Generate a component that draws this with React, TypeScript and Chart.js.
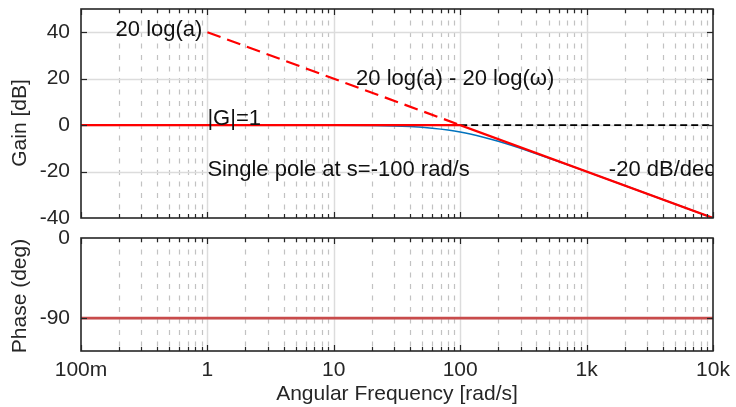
import React, { useEffect, useRef } from 'react';
import { Chart, registerables } from 'chart.js';

Chart.register(...registerables);

const FONT = "'Liberation Sans', Arial, Helvetica, sans-serif";
const TEXT = '#262626';
const FONT_SIZE = 21;
const NOTE_FONT_SIZE = 22;

// x axis (log) decades and labels
const decadeValues = [0.1, 1, 10, 100, 1000, 10000];
const decadeLabels = ['100m', '1', '10', '100', '1k', '10k'];
const minorMultipliers = [2, 3, 4, 5, 6, 7, 8, 9];

// y tick values
const gainTickValues = [-40, -20, 0, 20, 40];
const phaseTickValues = [-90, 0];

// Gain: straight-line asymptote (red solid)
const asymFreq = [0.1, 100, 10000];
const asymGain = [0, 0, -40];

// Gain: exact magnitude (blue)
const exactFreq = [0.1, 1, 10, 20, 30, 40, 50, 60, 70, 80, 90, 100, 110, 120, 135, 150, 175, 200, 250, 300, 400, 500, 700, 1000, 2000, 5000, 10000];
const exactGain = [0, 0, -0.04, -0.17, -0.37, -0.64, -0.97, -1.34, -1.73, -2.15, -2.58, -3.01, -3.44, -3.87, -4.51, -5.12, -6.08, -6.99, -8.6, -10.0, -12.3, -14.15, -16.99, -20.04, -26.03, -33.98, -40.0];

// Gain: 20 log(a) - 20 log(w) extension (red dashed)
const slopeFreq = [1, 100];
const slopeGain = [40, 0];

// Gain: |G| = 1 continuation (black dashed)
const unityFreq = [100, 10000];
const unityGain = [0, 0];

// Phase
const phaseFreq = [0.1, 10000];
const phaseDeg = [-90, -90];

// Text annotations (data coordinates)
const annotationTexts = ['20 log(a)', '20 log(a) - 20 log(ω)', '|G|=1', 'Single pole at s=-100 rad/s', '-20 dB/dec'];
const annotationX = [1, 15, 1, 1, 1500];
const annotationY = [40, 19, 2, -20, -20];
const annotationAlign = ['right', 'left', 'left', 'left', 'left'];

const pts = (xs: number[], ys: number[]) => xs.map((x, i) => ({ x, y: ys[i] }));

function minorValues(): number[] {
  const out: number[] = [];
  for (const d of decadeValues.slice(0, -1)) for (const m of minorMultipliers) out.push(d * m);
  return out;
}

const crisp = (v: number) => Math.round(v) + 0.5;

function drawGrid(chart: any, hValues: number[]) {
  const { ctx, chartArea: a, scales } = chart;
  const xs = scales.x;
  const ys = scales.y;
  ctx.save();
  ctx.lineWidth = 1.2;
  ctx.strokeStyle = '#c2c2c2';
  ctx.setLineDash([5, 6.5]);
  for (const v of minorValues()) {
    const x = crisp(xs.getPixelForValue(v));
    ctx.beginPath();
    ctx.moveTo(x, a.top);
    ctx.lineTo(x, a.bottom);
    ctx.stroke();
  }
  ctx.setLineDash([]);
  ctx.strokeStyle = '#dcdcdc';
  ctx.lineWidth = 1.5;
  for (const v of decadeValues.slice(1, -1)) {
    const x = crisp(xs.getPixelForValue(v));
    ctx.beginPath();
    ctx.moveTo(x, a.top);
    ctx.lineTo(x, a.bottom);
    ctx.stroke();
  }
  for (const v of hValues) {
    const y = crisp(ys.getPixelForValue(v));
    ctx.beginPath();
    ctx.moveTo(a.left, y);
    ctx.lineTo(a.right, y);
    ctx.stroke();
  }
  ctx.restore();
}

function drawFrame(chart: any, yTickValues: number[]) {
  const { ctx, chartArea: a, scales } = chart;
  const xs = scales.x;
  const ys = scales.y;
  ctx.save();
  ctx.strokeStyle = TEXT;
  ctx.lineWidth = 1.2;
  const seg = (x1: number, y1: number, x2: number, y2: number) => {
    ctx.beginPath();
    ctx.moveTo(x1, y1);
    ctx.lineTo(x2, y2);
    ctx.stroke();
  };
  for (const v of minorValues()) {
    const x = crisp(xs.getPixelForValue(v));
    seg(x, a.top, x, a.top + 4);
    seg(x, a.bottom, x, a.bottom - 4);
  }
  for (const v of decadeValues) {
    const x = crisp(xs.getPixelForValue(v));
    seg(x, a.top, x, a.top + 6);
    seg(x, a.bottom, x, a.bottom - 6);
  }
  for (const v of yTickValues) {
    const y = crisp(ys.getPixelForValue(v));
    seg(a.left, y, a.left + 6, y);
    seg(a.right, y, a.right - 6, y);
  }
  ctx.lineWidth = 1.6;
  ctx.strokeRect(Math.round(a.left), Math.round(a.top), Math.round(a.right - a.left), Math.round(a.bottom - a.top));
  ctx.restore();
}

function drawYTitle(chart: any, text: string, x: number, y: number) {
  const { ctx } = chart;
  ctx.save();
  ctx.translate(x, y);
  ctx.rotate(-Math.PI / 2);
  ctx.font = `${FONT_SIZE}px ${FONT}`;
  ctx.fillStyle = TEXT;
  ctx.textAlign = 'center';
  ctx.textBaseline = 'middle';
  ctx.fillText(text, 0, 0);
  ctx.restore();
}

function drawAnnotations(chart: any) {
  const { ctx, chartArea: a, scales } = chart;
  ctx.save();
  ctx.beginPath();
  ctx.rect(a.left, a.top, a.right - a.left, a.bottom - a.top);
  ctx.clip();
  ctx.font = `${NOTE_FONT_SIZE}px ${FONT}`;
  ctx.fillStyle = '#111111';
  ctx.textBaseline = 'middle';
  annotationTexts.forEach((t, i) => {
    const align = annotationAlign[i];
    ctx.textAlign = align as CanvasTextAlign;
    const x = scales.x.getPixelForValue(annotationX[i]) + (align === 'right' ? -5 : 0);
    const y = scales.y.getPixelForValue(annotationY[i]) - 2;
    ctx.fillText(t, x, y);
  });
  ctx.restore();
}

const gainDecor = {
  id: 'gainDecor',
  beforeDatasetsDraw(chart: any) {
    drawGrid(chart, [40, 20, 0, -20]);
  },
  afterDatasetsDraw(chart: any) {
    drawFrame(chart, [40, 20, 0, -20]);
    drawAnnotations(chart);
    drawYTitle(chart, 'Gain [dB]', 20, 123);
  },
};

const phaseDecor = {
  id: 'phaseDecor',
  beforeDatasetsDraw(chart: any) {
    drawGrid(chart, [-90]);
  },
  afterDatasetsDraw(chart: any) {
    drawFrame(chart, [-90]);
    drawYTitle(chart, 'Phase (deg)', 20, 296 - 220);
  },
};

const tickFont = { family: FONT, size: FONT_SIZE };

const fixYWidth = (s: any) => {
  s.width = 81;
  s.paddingTop = 0;
  s.paddingBottom = 0;
};

export default function App() {
  const topRef = useRef<HTMLCanvasElement>(null);
  const botRef = useRef<HTMLCanvasElement>(null);

  useEffect(() => {
    const top = new Chart(topRef.current!, {
      type: 'line',
      data: {
        datasets: [
          { data: pts(asymFreq, asymGain), borderColor: '#ff0000', borderWidth: 2.2, pointRadius: 0, order: 0 },
          { data: pts(slopeFreq, slopeGain), borderColor: '#ff0000', borderWidth: 2.2, borderDash: [14, 7], pointRadius: 0, order: 0 },
          { data: pts(exactFreq, exactGain), borderColor: '#0072BD', borderWidth: 1.5, pointRadius: 0, order: 1 },
          { data: pts(unityFreq, unityGain), borderColor: '#000000', borderWidth: 1.6, borderDash: [7, 4], pointRadius: 0, order: 2 },
        ],
      },
      options: {
        responsive: false,
        devicePixelRatio: 1,
        animation: false,
        layout: { padding: { top: 9, right: 23, bottom: 22, left: 0 } },
        plugins: { legend: { display: false }, tooltip: { enabled: false } },
        scales: {
          x: { type: 'logarithmic', min: 0.1, max: 10000, display: false },
          y: {
            type: 'linear',
            min: -40,
            max: 50,
            afterBuildTicks: (s: any) => {
              s.ticks = gainTickValues.map((v) => ({ value: v }));
            },
            afterFit: fixYWidth,
            grid: { display: false, drawTicks: false },
            border: { display: false },
            ticks: { font: tickFont, color: TEXT, padding: 11, autoSkip: false },
          },
        },
      } as any,
      plugins: [gainDecor],
    });

    const bot = new Chart(botRef.current!, {
      type: 'line',
      data: {
        datasets: [
          { data: pts(phaseFreq, phaseDeg), borderColor: '#c84b4b', borderWidth: 2.6, pointRadius: 0 },
        ],
      },
      options: {
        responsive: false,
        devicePixelRatio: 1,
        animation: false,
        layout: { padding: { top: 18, right: 23, bottom: 0, left: 0 } },
        plugins: { legend: { display: false }, tooltip: { enabled: false } },
        scales: {
          x: {
            type: 'logarithmic',
            min: 0.1,
            max: 10000,
            position: 'bottom',
            afterBuildTicks: (s: any) => {
              s.ticks = decadeValues.map((v) => ({ value: v }));
            },
            afterFit: (s: any) => {
              s.height = 56;
              s.paddingLeft = 0;
              s.paddingRight = 0;
            },
            grid: { display: false, drawTicks: false },
            border: { display: false },
            ticks: {
              autoSkip: false,
              maxRotation: 0,
              minRotation: 0,
              padding: 7,
              font: tickFont,
              color: TEXT,
              callback: (_v: any, i: number) => decadeLabels[i],
            },
            title: {
              display: true,
              text: 'Angular Frequency [rad/s]',
              font: tickFont,
              color: TEXT,
              padding: { top: 0, bottom: 0 },
            },
          },
          y: {
            type: 'linear',
            min: -127,
            max: 0,
            afterBuildTicks: (s: any) => {
              s.ticks = phaseTickValues.map((v) => ({ value: v }));
            },
            afterFit: fixYWidth,
            grid: { display: false, drawTicks: false },
            border: { display: false },
            ticks: { font: tickFont, color: TEXT, padding: 11, autoSkip: false },
          },
        },
      } as any,
      plugins: [phaseDecor],
    });

    return () => {
      top.destroy();
      bot.destroy();
    };
  }, []);

  return (
    <div style={{ position: 'absolute', left: 0, top: 0, width: 736, height: 407, background: '#ffffff', overflow: 'hidden' }}>
      <canvas ref={topRef} width={736} height={240} style={{ position: 'absolute', left: 0, top: 0, width: 736, height: 240 }} />
      <canvas ref={botRef} width={736} height={187} style={{ position: 'absolute', left: 0, top: 220, width: 736, height: 187 }} />
    </div>
  );
}
